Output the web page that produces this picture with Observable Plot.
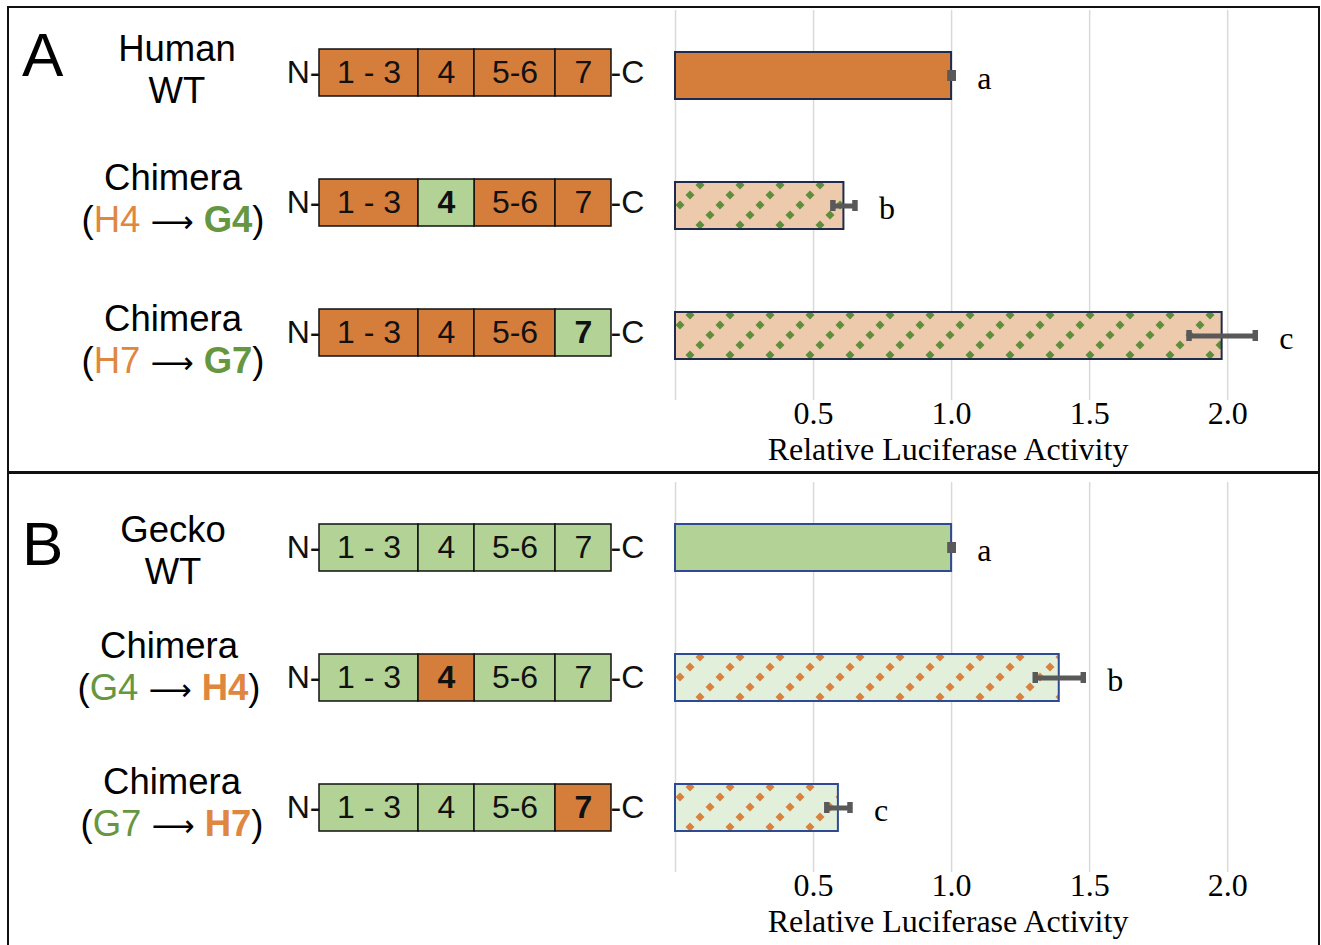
<!DOCTYPE html>
<html>
<head>
<meta charset="utf-8">
<script src="https://cdn.jsdelivr.net/npm/d3@7"></script>
<script src="https://cdn.jsdelivr.net/npm/@observablehq/plot@0.6"></script>
<style>
  body { margin: 0; background: #fff; }
  #fig { position: relative; width: 1321px; height: 945px; overflow: hidden; background: #fff;
         font-family: "Liberation Sans", Arial, sans-serif; color: #000; }
  .layer { position: absolute; }
  .frame { position: absolute; border: 2.5px solid #111; box-sizing: border-box; }
  .rule { position: absolute; background: #111; }
  .panel-letter { position: absolute; font-size: 62px; line-height: 62px; }
  .rowlab { position: absolute; text-align: center; font-size: 36.5px; line-height: 42px;
            transform: translate(-50%, -50%); white-space: nowrap; }
  .arrow { font-family: "DejaVu Sans", sans-serif; font-size: 30px; }
</style>
</head>
<body>
<div id="fig"></div>
<script>
// ---------------- data ----------------
const segmentNames = ["1 - 3", "4", "5-6", "7"];
const segmentLengths = [99, 56, 81, 56];

const rowsA = ["Human WT", "Chimera (H4 → G4)", "Chimera (H7 → G7)"];
const titleA = ["Human", "Chimera", "Chimera"];
const swapFromA = [null, "H4", "H7"];
const swapToA = [null, "G4", "G7"];
const swappedA = [null, "4", "7"];
const activityA = [1.00, 0.61, 1.98];
const errorA = [0.006, 0.04, 0.12];
const lettersA = ["a", "b", "c"];

const rowsB = ["Gecko WT", "Chimera (G4 → H4)", "Chimera (G7 → H7)"];
const titleB = ["Gecko", "Chimera", "Chimera"];
const swapFromB = [null, "G4", "G7"];
const swapToB = [null, "H4", "H7"];
const swappedB = [null, "4", "7"];
const activityB = [1.00, 1.39, 0.59];
const errorB = [0.006, 0.087, 0.042];
const lettersB = ["a", "b", "c"];

const xTicks = [0.5, 1.0, 1.5, 2.0];
const gridTicks = [0, 0.5, 1.0, 1.5, 2.0];
const xLabel = "Relative Luciferase Activity";

// ---------------- styles / layout ----------------
const ORANGE = "#D57D3B";
const GREEN = "#B3D396";
const ORANGE_TEXT = "#E0873F";
const GREEN_TEXT = "#669640";

const panels = [
  { id: "A", top: 10, height: 460, rows: rowsA, titles: titleA, from: swapFromA, to: swapToA,
    swapped: swappedA, values: activityA, errors: errorA, letters: lettersA,
    base: ORANGE, swap: GREEN, light: "#EDCAAC", dot: "#5E8E3C", barStroke: "#1F2B4E",
    fromColor: ORANGE_TEXT, toColor: GREEN_TEXT, letterTop: 24, letterLeft: 22,
    labelNudge: [-6, -6, 5], labelX: [177, 173, 173], diagNudge: -3 },
  { id: "B", top: 482, height: 463, rows: rowsB, titles: titleB, from: swapFromB, to: swapToB,
    swapped: swappedB, values: activityB, errors: errorB, letters: lettersB,
    base: GREEN, swap: ORANGE, light: "#E2EFDA", dot: "#D8823E", barStroke: "#2E4A94",
    fromColor: GREEN_TEXT, toColor: ORANGE_TEXT, letterTop: 513, letterLeft: 22,
    labelNudge: [3, -10, -4], labelX: [173, 169, 172], diagNudge: 0 }
];

const fig = document.getElementById("fig");
const BAND_RANGE = 390;

function yScale(rows) {
  return { domain: rows, range: [0, BAND_RANGE], paddingInner: 0.64, paddingOuter: 0.32, axis: null };
}

function barPlot(p) {
  const data = p.rows.map((r, i) => ({ row: r, value: p.values[i], err: p.errors[i],
    letter: p.letters[i], hatched: p.swapped[i] !== null }));
  const ERR = "#595959";
  const svg = Plot.plot({
    width: 660, height: p.height,
    marginLeft: 15, marginRight: 10, marginTop: 0, marginBottom: p.height - BAND_RANGE,
    x: { domain: [0, 2.3], axis: null },
    y: yScale(p.rows),
    style: { fontFamily: "'Liberation Serif', 'Times New Roman', serif", fontSize: "32px",
             background: "transparent", overflow: "visible" },
    marks: [
      Plot.gridX(gridTicks, { stroke: "#d9d9d9", strokeOpacity: 1, strokeWidth: 1.5 }),
      Plot.axisX(xTicks, { tickSize: 0, tickPadding: 1, tickFormat: d3.format(".1f"), label: null, fontSize: 32 }),
      Plot.barX(data, { filter: d => !d.hatched, x: "value", y: "row", fill: p.base,
                        stroke: p.barStroke, strokeWidth: 2 }),
      Plot.barX(data, { filter: d => d.hatched, x: "value", y: "row", fill: `url(#hatch-${p.id})`,
                        stroke: p.barStroke, strokeWidth: 2 }),
      Plot.ruleY(data, { x1: d => d.value - d.err, x2: d => d.value + d.err, y: "row",
                         stroke: ERR, strokeWidth: 5 }),
      Plot.tickX(data, { x: d => d.value - d.err, y: "row", insetTop: 18, insetBottom: 18,
                         stroke: ERR, strokeWidth: 5.5 }),
      Plot.tickX(data, { x: d => d.value + d.err, y: "row", insetTop: 18, insetBottom: 18,
                         stroke: ERR, strokeWidth: 5.5 }),
      Plot.text(data, { x: d => d.value + d.err, y: "row", text: "letter", dx: 24, dy: 3,
                        textAnchor: "start", fontSize: 32, fill: "#000" }),
      Plot.text([xLabel], { frameAnchor: "bottom", dx: -45, dy: 49, lineAnchor: "middle",
                            fontSize: 32, fill: "#000" })
    ]
  });
  // hatch pattern: dotted diagonal lines over a light fill
  const s = 40, r = 4.5;
  const dots = [[5, 35], [15, 25], [25, 15], [35, 5]]
    .map(([cx, cy]) => `<path d="M${cx},${cy - r}L${cx + r},${cy}L${cx},${cy + r}L${cx - r},${cy}Z" fill="${p.dot}"/>`)
    .join("");
  svg.insertAdjacentHTML("afterbegin",
    `<defs><pattern id="hatch-${p.id}" patternUnits="userSpaceOnUse" width="${s}" height="${s}" x="15" y="0">` +
    `<rect width="${s}" height="${s}" fill="${p.light}"/>${dots}</pattern></defs>`);
  return svg;
}

function diagramPlot(p) {
  const starts = [0];
  segmentLengths.forEach((l, j) => starts.push(starts[j] + l));
  const total = d3.sum(segmentLengths);
  const segs = p.rows.flatMap((r, i) => segmentNames.map((name, j) => ({
    row: r, name, x1: starts[j], x2: starts[j] + segmentLengths[j], swapped: p.swapped[i] === name })));
  const txt = { y: "row", fontSize: 32, fill: "#111" };
  return Plot.plot({
    width: 660, height: p.height,
    marginLeft: 319, marginRight: 49, marginTop: 0, marginBottom: p.height - BAND_RANGE,
    x: { domain: [0, total], axis: null },
    y: yScale(p.rows),
    style: { fontFamily: "'Liberation Sans', Arial, sans-serif", fontSize: "32px",
             background: "transparent", overflow: "visible" },
    marks: [
      Plot.barX(segs, { filter: d => !d.swapped, x1: "x1", x2: "x2", y: "row", fill: p.base,
                        stroke: "#111", strokeWidth: 1.5 }),
      Plot.barX(segs, { filter: d => d.swapped, x1: "x1", x2: "x2", y: "row", fill: p.swap,
                        stroke: "#111", strokeWidth: 1.5 }),
      Plot.text(segs, { ...txt, filter: d => !d.swapped, x: d => (d.x1 + d.x2) / 2, text: "name" }),
      Plot.text(segs, { ...txt, filter: d => d.swapped, x: d => (d.x1 + d.x2) / 2, text: "name",
                        fontWeight: "bold" }),
      Plot.text(p.rows, { ...txt, y: d => d, x: () => 0, text: () => "N-", textAnchor: "end", dx: 1 }),
      Plot.text(p.rows, { ...txt, y: d => d, x: () => total, text: () => "-C", textAnchor: "start", dx: -1 })
    ]
  });
}

// frames
const outer = document.createElement("div");
outer.className = "frame";
Object.assign(outer.style, { left: "7px", top: "6px", width: "1313px", height: "1000px" });
fig.appendChild(outer);
const divider = document.createElement("div");
divider.className = "rule";
Object.assign(divider.style, { left: "7px", top: "471px", width: "1313px", height: "2.5px" });
fig.appendChild(divider);

for (const p of panels) {
  const bars = barPlot(p);
  bars.classList.add("layer");
  Object.assign(bars.style, { left: "660px", top: p.top + "px" });
  fig.appendChild(bars);

  const diag = diagramPlot(p);
  diag.classList.add("layer");
  Object.assign(diag.style, { left: "0px", top: (p.top + p.diagNudge) + "px" });
  fig.appendChild(diag);

  const letter = document.createElement("div");
  letter.className = "panel-letter";
  letter.textContent = p.id;
  Object.assign(letter.style, { left: p.letterLeft + "px", top: p.letterTop + "px" });
  fig.appendChild(letter);

  const ys = bars.scale("y");
  p.rows.forEach((row, i) => {
    const cy = p.top + ys.apply(row) + ys.bandwidth / 2 + p.labelNudge[i];
    const el = document.createElement("div");
    el.className = "rowlab";
    const line2 = p.from[i] === null
      ? "WT"
      : `(<span style="color:${p.fromColor}">${p.from[i]}</span> <span class="arrow">⟶</span> ` +
        `<span style="color:${p.toColor};font-weight:bold">${p.to[i]}</span>)`;
    el.innerHTML = `<div>${p.titles[i]}</div><div>${line2}</div>`;
    Object.assign(el.style, { left: p.labelX[i] + "px", top: cy + "px" });
    fig.appendChild(el);
  });
}
</script>
</body>
</html>
